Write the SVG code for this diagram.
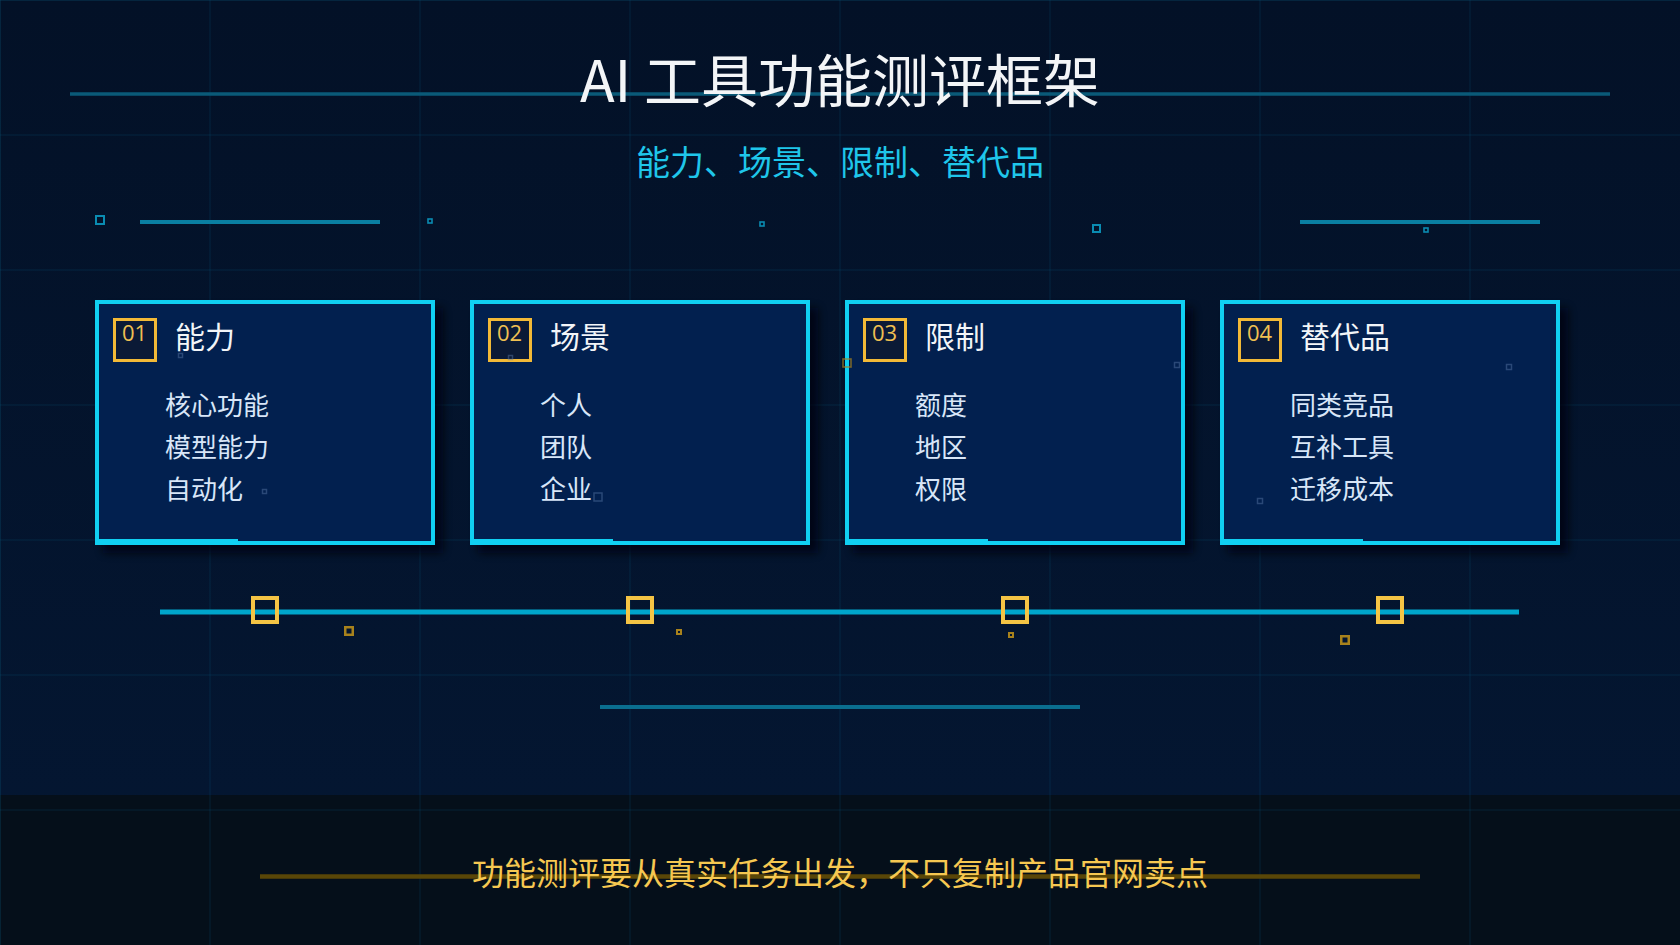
<svg xmlns="http://www.w3.org/2000/svg" width="1680" height="945" viewBox="0 0 1680 945">
  <defs>
    <linearGradient id="bg" x1="0" y1="0" x2="0" y2="1">
      <stop offset="0" stop-color="#031127"/>
      <stop offset="1" stop-color="#041733"/>
    </linearGradient>
    <filter id="shadow" x="-10%" y="-10%" width="130%" height="130%">
      <feGaussianBlur stdDeviation="4"/>
    </filter>
    <style>
      .grid line { stroke: #0a5a7a; stroke-opacity: 0.28; stroke-width: 1; }
      .deco { stroke: #0a7fa2; stroke-width: 4; }
      .sq { fill: none; stroke: #0a8cb2; }
      .card-shadow { fill: #01060f; opacity: 0.75; }
      .card-box { fill: #02204f; stroke: #10d0f2; stroke-width: 4; }
      .accent { fill: #10d0f2; }
      .badge { fill: #0b1a36; stroke: #f2b937; stroke-width: 3; }
      .num { font-family: "Open Sans", "Noto Sans", sans-serif; font-size: 22px; fill: #f0c052; }
      .head { font-family: "Noto Sans CJK SC", "Noto Sans", sans-serif; font-size: 30px; fill: #f2f5f8; }
      .item { font-family: "Noto Sans CJK SC", "Noto Sans", sans-serif; font-size: 26px; fill: #d8e6f8; }
      .faint { fill: none; stroke: #5a7aa8; stroke-opacity: 0.45; stroke-width: 1.5; }
      .tick { fill: none; stroke: #f5c444; stroke-width: 4; }
      .dim { fill: none; stroke: #a8821c; }
    </style>
  </defs>

  <!-- background -->
  <rect x="0" y="0" width="1680" height="945" fill="url(#bg)"/>
  <rect x="0" y="795" width="1680" height="150" fill="#050f1a"/>

  <g class="grid">
    <line x1="0" y1="0.5" x2="1680" y2="0.5"/>
    <line x1="0" y1="135" x2="1680" y2="135"/>
    <line x1="0" y1="270" x2="1680" y2="270"/>
    <line x1="0" y1="405" x2="1680" y2="405"/>
    <line x1="0" y1="540" x2="1680" y2="540"/>
    <line x1="0" y1="675" x2="1680" y2="675"/>
    <line x1="0" y1="810" x2="1680" y2="810"/>
    <line x1="0.5" y1="0" x2="0.5" y2="945"/>
    <line x1="210" y1="0" x2="210" y2="945"/>
    <line x1="420" y1="0" x2="420" y2="945"/>
    <line x1="630" y1="0" x2="630" y2="945"/>
    <line x1="840" y1="0" x2="840" y2="945"/>
    <line x1="1050" y1="0" x2="1050" y2="945"/>
    <line x1="1260" y1="0" x2="1260" y2="945"/>
    <line x1="1470" y1="0" x2="1470" y2="945"/>
  </g>

  <!-- header -->
  <g id="header">
    <line x1="70" y1="94" x2="1610" y2="94" stroke="#0a5a78" stroke-width="3.5"/>
    <text x="840" y="102" text-anchor="middle" font-family="Noto Sans CJK SC, Noto Sans, sans-serif" font-size="57" fill="#f3f5f7">AI 工具功能测评框架</text>
    <text x="840" y="175" text-anchor="middle" font-family="Noto Sans CJK SC, Noto Sans, sans-serif" font-size="34" fill="#1fc6ea">能力、场景、限制、替代品</text>
  </g>

  <!-- top decoration row -->
  <g id="top-deco">
    <rect class="sq" x="96" y="216" width="8" height="8" stroke-width="2"/>
    <line class="deco" x1="140" y1="222" x2="380" y2="222"/>
    <rect class="sq" x="428" y="219" width="4" height="4" stroke-width="1.6"/>
    <rect class="sq" x="760" y="222" width="4" height="4" stroke-width="1.6"/>
    <rect class="sq" x="1093" y="225" width="7" height="7" stroke-width="2"/>
    <line class="deco" x1="1300" y1="222" x2="1540" y2="222"/>
    <rect class="sq" x="1424" y="228" width="4" height="4" stroke-width="1.6"/>
  </g>

  <!-- cards -->
  <g id="card-01">
    <rect class="card-shadow" x="103" y="308" width="340" height="245" filter="url(#shadow)"/>
    <rect class="card-box" x="97" y="302" width="336" height="241"/>
    <rect class="accent" x="95" y="539" width="143" height="6"/>
    <rect class="badge" x="114.5" y="319.5" width="41" height="41"/>
    <text class="num" x="122" y="341">01</text>
    <text class="head" x="175" y="348">能力</text>
    <text class="item" x="165" y="415">核心功能</text>
    <text class="item" x="165" y="457">模型能力</text>
    <text class="item" x="165" y="499">自动化</text>
  </g>

  <g id="card-02">
    <rect class="card-shadow" x="478" y="308" width="340" height="245" filter="url(#shadow)"/>
    <rect class="card-box" x="472" y="302" width="336" height="241"/>
    <rect class="accent" x="470" y="539" width="143" height="6"/>
    <rect class="badge" x="489.5" y="319.5" width="41" height="41"/>
    <text class="num" x="497" y="341">02</text>
    <text class="head" x="550" y="348">场景</text>
    <text class="item" x="540" y="415">个人</text>
    <text class="item" x="540" y="457">团队</text>
    <text class="item" x="540" y="499">企业</text>
  </g>

  <g id="card-03">
    <rect class="card-shadow" x="853" y="308" width="340" height="245" filter="url(#shadow)"/>
    <rect class="card-box" x="847" y="302" width="336" height="241"/>
    <rect class="accent" x="845" y="539" width="143" height="6"/>
    <rect class="badge" x="864.5" y="319.5" width="41" height="41"/>
    <text class="num" x="872" y="341">03</text>
    <text class="head" x="925" y="348">限制</text>
    <text class="item" x="915" y="415">额度</text>
    <text class="item" x="915" y="457">地区</text>
    <text class="item" x="915" y="499">权限</text>
  </g>

  <g id="card-04">
    <rect class="card-shadow" x="1228" y="308" width="340" height="245" filter="url(#shadow)"/>
    <rect class="card-box" x="1222" y="302" width="336" height="241"/>
    <rect class="accent" x="1220" y="539" width="143" height="6"/>
    <rect class="badge" x="1239.5" y="319.5" width="41" height="41"/>
    <text class="num" x="1247" y="341">04</text>
    <text class="head" x="1300" y="348">替代品</text>
    <text class="item" x="1290" y="415">同类竞品</text>
    <text class="item" x="1290" y="457">互补工具</text>
    <text class="item" x="1290" y="499">迁移成本</text>
  </g>

  <!-- faint particles -->
  <g id="particles">
    <rect class="faint" x="178.5" y="353.5" width="4" height="4"/>
    <rect class="faint" x="262.5" y="489.5" width="4" height="4"/>
    <rect class="faint" x="508.5" y="355.5" width="4" height="4"/>
    <rect class="faint" x="594" y="493" width="8" height="8"/>
    <rect x="843" y="359" width="8" height="8" fill="none" stroke="#a8821c" stroke-opacity="0.7" stroke-width="1.6"/>
    <rect class="faint" x="1174.5" y="362.5" width="5" height="5"/>
    <rect class="faint" x="1506.5" y="364.5" width="5" height="5"/>
    <rect class="faint" x="1257.5" y="498.5" width="5" height="5"/>
  </g>

  <!-- connectors: timeline -->
  <g id="connectors">
    <line x1="160" y1="612" x2="1519" y2="612" stroke="#00a6cb" stroke-width="5"/>
    <rect class="tick" x="253" y="598" width="24" height="24"/>
    <rect class="tick" x="628" y="598" width="24" height="24"/>
    <rect class="tick" x="1003" y="598" width="24" height="24"/>
    <rect class="tick" x="1378" y="598" width="24" height="24"/>
    <rect class="dim" x="345.25" y="627.25" width="7.5" height="7.5" stroke-width="2.5"/>
    <rect class="dim" x="677" y="630" width="4" height="4" stroke-width="2"/>
    <rect class="dim" x="1009" y="633" width="4" height="4" stroke-width="2"/>
    <rect class="dim" x="1341.25" y="636.25" width="7.5" height="7.5" stroke-width="2.5"/>
    <line x1="600" y1="707" x2="1080" y2="707" stroke="#0a6e8f" stroke-width="4"/>
  </g>

  <!-- footer -->
  <g id="footer">
    <line x1="260" y1="876.5" x2="1420" y2="876.5" stroke="#594607" stroke-width="4.5"/>
    <text x="840" y="885" text-anchor="middle" font-family="Noto Sans CJK SC, Noto Sans, sans-serif" font-size="32" fill="#f6c851">功能测评要从真实任务出发，不只复制产品官网卖点</text>
  </g>
</svg>
